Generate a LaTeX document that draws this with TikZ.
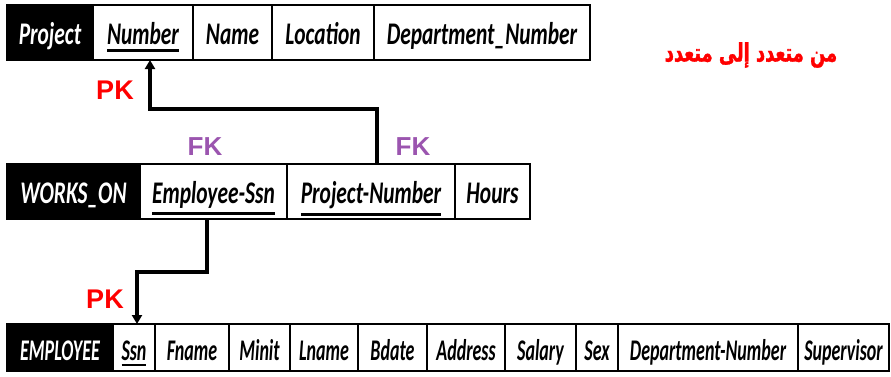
\documentclass[tikz,border=0pt]{standalone}
\usepackage{fontspec}
\usetikzlibrary{arrows.meta}
\TeXXeTstate=1
\newfontfamily\cellfont{Carlito}[FakeStretch=0.68]
\newfontfamily\narrowcellfont{Carlito}[FakeStretch=0.6]
\newfontfamily\tagfont{Liberation Sans}
\newfontfamily\arabicfont[Script=Arabic, FakeStretch=0.7, FakeBold=1.2]{DejaVu Sans}
\definecolor{fkpurple}{RGB}{155,85,175}
\definecolor{pkred}{RGB}{255,0,0}
% key attribute: text with a heavy rule below it
\newcommand\keyattr[2][3pt]{\leavevmode\vtop{\hbox{#2}\kern4pt\hrule height #1}}

\tikzset{
  cell/.style={draw=black, line width=1.4pt, fill=white, inner sep=0pt, outer sep=0pt,
    anchor=north west, align=center},
  bigrow/.style={cell, minimum height=55pt, text height=30pt, text depth=6pt,
    font=\cellfont\bfseries\itshape\fontsize{31.5}{31.5}\selectfont},
  smallrow/.style={cell, minimum height=47pt, text height=29pt, text depth=4pt,
    font=\narrowcellfont\bfseries\itshape\fontsize{30}{30}\selectfont},
  relname/.style={fill=black, text=white},
  link/.style={draw=black, line width=3.4pt, line join=miter,
    -{Triangle[width=10pt,length=9pt]}},
  pktag/.style={text=pkred, font=\tagfont\bfseries\fontsize{27}{27}\selectfont},
  fktag/.style={text=fkpurple, font=\tagfont\bfseries\fontsize{26}{26}\selectfont},
  title/.style={text=pkred, font=\arabicfont\bfseries\fontsize{25.5}{25.5}\selectfont}
}

\begin{document}
\begin{tikzpicture}[x=1pt, y=-1pt]
\useasboundingbox (0,0) rectangle (891,376);

% Project relation
\node[bigrow, relname, minimum width=86pt]  (proj)  at (7,5)   {Project};
\node[bigrow, minimum width=100pt] (pnum)  at (93,5)  {\keyattr{Number}};
\node[bigrow, minimum width=79pt]  (pname) at (193,5) {Name};
\node[bigrow, minimum width=102pt] (ploc)  at (272,5) {Location};
\node[bigrow, minimum width=216pt] (pdept) at (374,5) {Department\_Number};

% WORKS_ON relation
\node[bigrow, relname, minimum width=133pt] (works) at (7,164)   {WORKS\_ON};
\node[bigrow, minimum width=147pt] (wssn)  at (140,164) {\keyattr{Employee-Ssn}};
\node[bigrow, minimum width=168pt] (wpnum) at (287,164) {\keyattr{Project-Number}};
\node[bigrow, minimum width=75pt]  (whrs)  at (455,164) {Hours};

% EMPLOYEE relation
\node[smallrow, relname, minimum width=106pt] (emp) at (7,324) {EMPLOYEE};
\node[smallrow, minimum width=42pt]  (essn)   at (113,324) {\keyattr[2.2pt]{Ssn}};
\node[smallrow, minimum width=74pt]  (efname) at (155,324) {Fname};
\node[smallrow, minimum width=61pt]  (eminit) at (229,324) {Minit};
\node[smallrow, minimum width=68pt]  (elname) at (290,324) {Lname};
\node[smallrow, minimum width=69pt]  (ebdate) at (358,324) {Bdate};
\node[smallrow, minimum width=78pt]  (eaddr)  at (427,324) {Address};
\node[smallrow, minimum width=71pt]  (esal)   at (505,324) {Salary};
\node[smallrow, minimum width=42pt]  (esex)   at (576,324) {Sex};
\node[smallrow, minimum width=180pt] (edept)  at (618,324) {Department-Number};
\node[smallrow, minimum width=91pt]  (esup)   at (798,324) {Supervisor};

% foreign key links
\coordinate (lvlA) at (0,109);
\coordinate (lvlB) at (0,272);
\coordinate (pnumx) at (150,0);
\coordinate (wpnx) at (377,0);
\coordinate (wssnx) at (207,0);
\coordinate (essnx) at (137,0);
\draw[link] (wpnx |- wpnum.north) -- (wpnx |- lvlA) -- (pnumx |- lvlA) -- (pnumx |- pnum.south);
\draw[link] (wssnx |- wssn.south) -- (wssnx |- lvlB) -- (essnx |- lvlB) -- (essnx |- essn.north);

% key tags
\node[pktag] (pk1) at (115,90)  {PK};
\node[fktag] (fk1) at (205,147) {FK};
\node[fktag] (fk2) at (413,147) {FK};
\node[pktag] (pk2) at (105,299) {PK};

% heading
\node[title] (head) at (751,55) {\beginR من متعدد إلى متعدد\endR};
\end{tikzpicture}
\end{document}
